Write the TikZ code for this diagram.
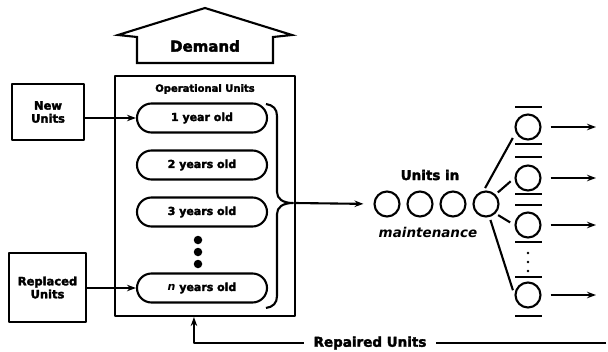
\documentclass[tikz,border=0pt]{standalone}
\usepackage{fontspec}
\setmainfont{DejaVu Sans}[BoldFeatures={FakeBold=2.5}]
\usetikzlibrary{arrows.meta,calc}

\begin{document}
\begin{tikzpicture}[x=1pt,y=-1pt,line width=2.1pt,line join=round,
  lbl/.style={font=\bfseries\fontsize{#1}{#1}\selectfont,inner sep=0pt},
  srcbox/.style={draw,minimum width=#1,minimum height=56pt,inner sep=0pt,align=center,
    font=\bfseries\fontsize{11.5}{13}\selectfont},
  pill/.style={draw,rounded corners=14.5pt,minimum width=130pt,minimum height=29pt,
    inner sep=0pt,font=\bfseries\fontsize{11}{11}\selectfont},
  unit/.style={draw,circle,minimum size=25pt,inner sep=0pt},
  bigdot/.style={fill,circle,minimum size=8.5pt,inner sep=0pt},
  smalldot/.style={fill,circle,minimum size=2.8pt,inner sep=0pt},
  bar/.style={line width=2.6pt},
  arr/.style={-{Stealth[length=9pt,width=6.5pt]}}]

\useasboundingbox (0,0) rectangle (608,351);

% demand block arrow
\draw[line join=miter] (205,8) -- (292,35) -- (273,37) -- (273,63) -- (137,63)
  -- (137,37) -- (118,35) -- cycle;
\node[lbl=15] (dem) at (205,46) {Demand};

% operational units
\node[draw,minimum width=180pt,minimum height=240pt,inner sep=0pt] (ops) at (205,196) {};
\node[lbl=10] (opt) at (205,89) {Operational Units};
\node[pill] (p1) at (202,118) {1 year old};
\node[pill] (p2) at (202,165) {2 years old};
\node[pill] (p3) at (202,212) {3 years old};
\node[pill] (pn) at (202,288) {\textit{n} years old};
\node[bigdot] (d1) at (198,240) {};
\node[bigdot] (d2) at (198,252) {};
\node[bigdot] (d3) at (198,264) {};

% brace gathering all age groups
\draw (266,104) .. controls (273,105) and (277,109) .. (277,116) -- (277,192)
  .. controls (277,199) and (283,203) .. (293,203)
  .. controls (283,203) and (277,207) .. (277,214) -- (277,296)
  .. controls (277,303) and (273,307) .. (266,308);
\coordinate (btip) at (295,203);

% sources
\node[srcbox=72pt] (new) at (48,112) {New\\Units};
\node[srcbox=77pt,minimum height=69pt] (rep) at (47.5,287.5) {Replaced\\Units};
\draw[arr] (new.east |- p1.west) -- (p1.west);
\draw[arr] (rep.east |- pn.west) -- (pn.west);

% maintenance queue
\node[unit] (m1) at (387,204) {};
\node[unit] (m2) at (420,204) {};
\node[unit] (m3) at (453,204) {};
\node[unit] (m4) at (486,204) {};
\node[lbl=13.5] (mt) at (430,175) {Units in};
\node[lbl=13.5,font=\bfseries\itshape\fontsize{13.5}{13.5}\selectfont] (mb) at (428,232) {maintenance};
\draw[arr,shorten >=10pt] (btip) -- (m1.west);

% repair stations
\node[unit] (s1) at (528,127) {};
\node[unit] (s2) at (528,178) {};
\node[unit] (s3) at (528,225) {};
\node[unit] (s4) at (528,295) {};
\foreach \s/\a/\b in {s1/-20/17,s2/-21/16,s3/-20/17,s4/-18/21}{
  \draw[bar] ($(\s)+(-13,\a)$) -- ++(27,0);
  \draw[bar] ($(\s)+(-13,\b)$) -- ++(27,0);
}
\node[smalldot] (e1) at (528,253) {};
\node[smalldot] (e2) at (528,262) {};
\node[smalldot] (e3) at (528,271) {};

\draw[shorten <=3pt,shorten >=6pt] (m4.100) -- (s1.205);
\draw[shorten <=3pt,shorten >=5pt] (m4.45) -- (s2.west);
\draw[shorten <=3pt,shorten >=5pt] (m4.-45) -- (s3.west);
\draw[shorten <=3pt,shorten >=5pt] (m4.-75) -- (s4.west);

\foreach \s in {s1,s2,s3,s4}{
  \coordinate (o\s) at ($(\s)+(68,0)$);
  \draw[arr,shorten <=9pt] (\s.east) -- (o\s);
}

% repaired units returning to service
\coordinate (rend) at (606,343);
\node[lbl=13.5,inner xsep=9pt] (rpd) at (370,343) {Repaired Units};
\coordinate (rin) at ($(ops.south west)+(80,0)$);
\draw (rend) -- (rpd.east);
\draw[arr] (rpd.west) -| (rin);
\end{tikzpicture}
\end{document}
